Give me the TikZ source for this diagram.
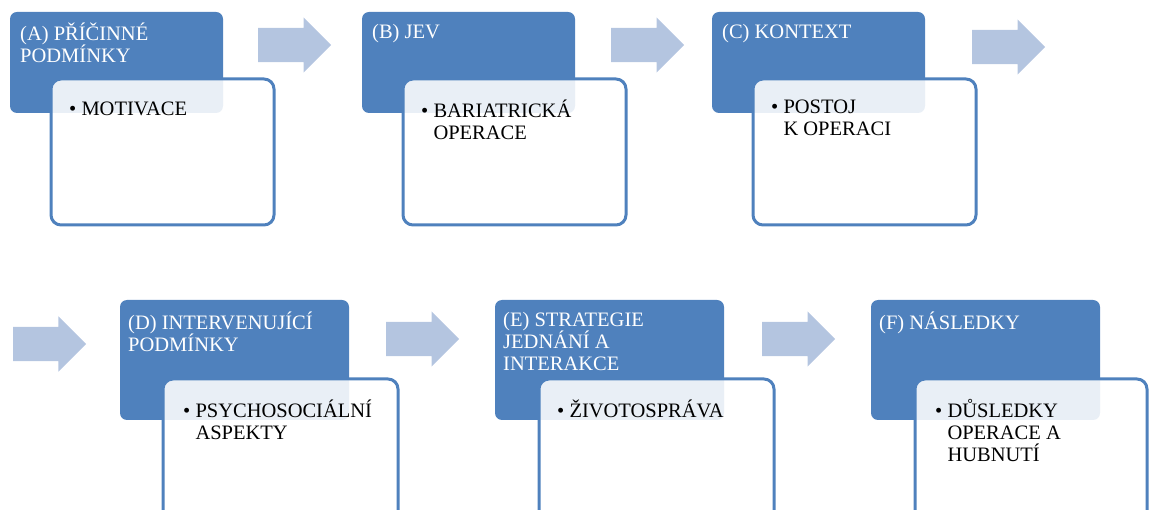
\documentclass[tikz,border=0pt]{standalone}
\usepackage{fontspec}
\setmainfont{Liberation Serif}
\usetikzlibrary{positioning,shapes.arrows}
\definecolor{boxblue}{HTML}{4F81BD}
\definecolor{flowblue}{HTML}{B4C5E0}
\tikzset{
	every node/.style={font=\fontsize{20.5}{22}\selectfont},
	headbox/.style={rectangle, fill=boxblue, rounded corners=7pt, inner sep=0pt, outer sep=0pt},
	itembox/.style={rectangle, draw=boxblue, line width=3pt, fill=white, fill opacity=0.88,
		rounded corners=10pt, inner sep=0pt, outer sep=0pt}
}

\begin{document}
\begin{tikzpicture}[x=1pt, y=-1pt,
	flow/.style={single arrow, fill=flowblue, inner xsep=0pt, inner ysep=17pt,
		single arrow head extend=10.5pt, minimum height=73pt, anchor=tail},
	headtext/.style={inner sep=0pt, align=left, text=white, execute at begin node=\strut},
	itemtext/.style={inner sep=0pt, align=left, text=black, execute at begin node=\strut}]
	\useasboundingbox (0,0) rectangle (1149,510);
	\clip (0,0) rectangle (1149,510);

	% Upper row
	\node[headbox, minimum width=213pt, minimum height=101pt, anchor=north west] (hA) at (10,12) {};
	\node[headbox, minimum width=213pt, minimum height=101pt, anchor=north west] (hB) at (362,12) {};
	\node[headbox, minimum width=213pt, minimum height=101pt, anchor=north west] (hC) at (712,12) {};

	\node[headtext] (tA) [below right=10.6pt and 10pt of hA.north west] {(A) PŘÍČINNÉ\\PODMÍNKY};
	\node[headtext] (tB) [below right=10.6pt and 10pt of hB.north west] {(B) JEV};
	\node[headtext] (tC) [below right=10.6pt and 10pt of hC.north west] {(C) KONTEXT};

	\node[itembox, minimum width=223pt, minimum height=146pt] (iA) [below right=67pt and 41pt of hA.north west] {};
	\node[itembox, minimum width=223pt, minimum height=146pt] (iB) [below right=67pt and 41pt of hB.north west] {};
	\node[itembox, minimum width=223pt, minimum height=146pt] (iC) [below right=67pt and 41pt of hC.north west] {};

	\node[itemtext] (sA) [below right=20.6pt and 18pt of iA.north west] {\textbullet\ MOTIVACE};
	\node[itemtext] (sB) [below right=20.6pt and 18pt of iB.north west] {\textbullet\ BARIATRICKÁ\\\phantom{\textbullet\ }OPERACE};
	\node[itemtext] (sC) [below right=20.6pt and 18pt of iC.north west] {\textbullet\ POSTOJ\\\phantom{\textbullet\ }K OPERACI};

	% Lower row
	\node[headbox, minimum width=229pt, minimum height=120pt, anchor=north west] (hD) at (120,300) {};
	\node[headbox, minimum width=229pt, minimum height=120pt, anchor=north west] (hE) at (495,300) {};
	\node[headbox, minimum width=229pt, minimum height=120pt, anchor=north west] (hF) at (871,300) {};

	\node[headtext] (tD) [below right=11.6pt and 8pt of hD.north west] {(D) INTERVENUJÍCÍ\\PODMÍNKY};
	\node[headtext] (tE) [below right=11.6pt and 8pt of hE.north west] {(E) STRATEGIE\\JEDNÁNÍ A\\INTERAKCE};
	\node[headtext] (tF) [below right=11.6pt and 8pt of hF.north west] {(F) NÁSLEDKY};

	\node[itembox, minimum width=235pt, minimum height=150pt] (iD) [below right=79pt and 43pt of hD.north west] {};
	\node[itembox, minimum width=235pt, minimum height=150pt] (iE) [below right=79pt and 44pt of hE.north west] {};
	\node[itembox, minimum width=232pt, minimum height=150pt] (iF) [below right=79pt and 44pt of hF.north west] {};

	\node[itemtext] (sD) [below right=20.6pt and 20pt of iD.north west] {\textbullet\ PSYCHOSOCIÁLNÍ\\\phantom{\textbullet\ }ASPEKTY};
	\node[itemtext] (sE) [below right=20.6pt and 18pt of iE.north west] {\textbullet\ ŽIVOTOSPRÁVA};
	\node[itemtext] (sF) [below right=20.6pt and 20pt of iF.north west] {\textbullet\ DŮSLEDKY\\\phantom{\textbullet\ }OPERACE A\\\phantom{\textbullet\ }HUBNUTÍ};

	% Block arrows
	\node[flow] (f1) at (258,45) {};
	\node[flow] (f2) at (611,45) {};
	\node[flow] (f3) at (972,47) {};
	\node[flow] (f4) at (13,344) {};
	\node[flow] (f5) at (386,339) {};
	\node[flow] (f6) at (762,339) {};
\end{tikzpicture}
\end{document}
